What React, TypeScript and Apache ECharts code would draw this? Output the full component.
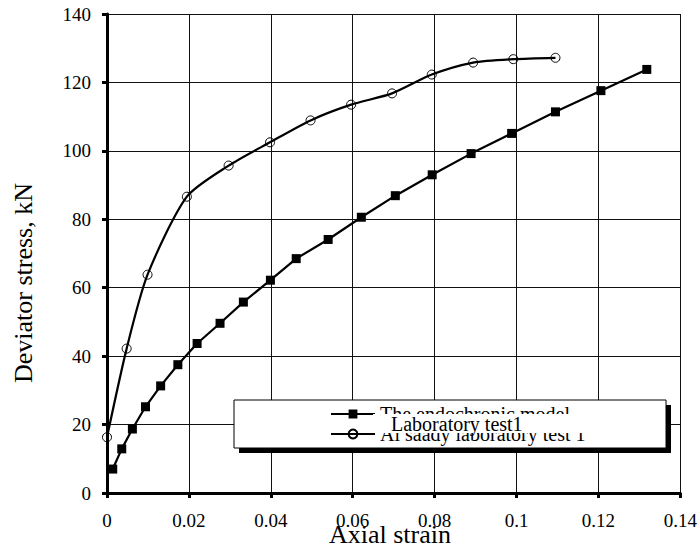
import React, { useEffect, useRef } from "react";
import * as echarts from "echarts";

const modelStrain = [0.0014, 0.0036, 0.0062, 0.0094, 0.0131, 0.0173, 0.022, 0.0276, 0.0333, 0.0399, 0.0462, 0.054, 0.0621, 0.0704, 0.0794, 0.0889, 0.0988, 0.1095, 0.1206, 0.1318];
const modelStress = [7.0, 12.9, 18.7, 25.2, 31.3, 37.5, 43.7, 49.6, 55.8, 62.2, 68.5, 74.1, 80.6, 86.9, 93.0, 99.2, 105.1, 111.4, 117.6, 123.8];

const labStrain = [0, 0.0048, 0.0099, 0.0195, 0.0297, 0.0398, 0.0497, 0.0596, 0.0696, 0.0793, 0.0894, 0.0992, 0.1095];
const labStress = [16.3, 42.2, 63.8, 86.6, 95.7, 102.5, 108.9, 113.5, 116.8, 122.3, 125.8, 126.8, 127.2];

const seriesNames = ["The endochronic model", "Al saady laboratory test 1"];
const overlayLabel = "Laboratory test1";
const xTitle = "Axial strain";
const yTitle = "Deviator stress, kN";

const FONT = "Liberation Serif";

export default function App() {
  const ref = useRef<HTMLDivElement>(null);
  useEffect(() => {
    if (!ref.current) return;
    const chart = echarts.init(ref.current, undefined, { renderer: "svg" });
    const axisCommon = {
      type: "value" as const,
      axisLine: { show: true, lineStyle: { color: "#000", width: 3 } },
      axisTick: { show: true, length: 5, lineStyle: { color: "#000", width: 3 } },
      splitLine: { show: true, lineStyle: { color: "#111", width: 1 } },
    };
    chart.setOption({
      animation: false,
      backgroundColor: "#fff",
      grid: { left: 107, right: 17, top: 14, bottom: 55, containLabel: false },
      xAxis: {
        ...axisCommon,
        min: 0,
        max: 0.14,
        interval: 0.02,
        axisLabel: {
          fontFamily: FONT,
          fontSize: 19,
          color: "#000",
          margin: 18,
          formatter: (v: number) => String(+v.toFixed(2)),
        },
      },
      yAxis: {
        ...axisCommon,
        min: 0,
        max: 140,
        interval: 20,
        axisLabel: { fontFamily: FONT, fontSize: 19, color: "#000", margin: 16 },
      },
      legend: {
        orient: "vertical",
        left: 325,
        top: 399,
        itemWidth: 44,
        itemHeight: 11,
        itemGap: 0,
        z: 40,
        textStyle: { fontFamily: FONT, fontSize: 20, color: "#000" },
        data: seriesNames,
      },
      series: [
        {
          name: seriesNames[0],
          type: "line",
          data: modelStrain.map((x, i) => [x, modelStress[i]]),
          symbol: "rect",
          symbolSize: 9,
          itemStyle: { color: "#000" },
          lineStyle: { color: "#000", width: 2.2 },
        },
        {
          name: seriesNames[1],
          type: "line",
          data: labStrain.map((x, i) => [x, labStress[i]]),
          symbol: "circle",
          symbolSize: 9,
          smooth: 0.25,
          itemStyle: { color: "rgba(0,0,0,0)", borderColor: "#000", borderWidth: 1 },
          lineStyle: { color: "#000", width: 2.2 },
        },
      ],
      graphic: [
        { type: "rect", z: 30, shape: { x: 239, y: 405, width: 432, height: 48 }, style: { fill: "#000" } },
        { type: "rect", z: 31, shape: { x: 234, y: 400, width: 432, height: 48 }, style: { fill: "#fff", stroke: "#000", lineWidth: 1 } },
        { type: "rect", z: 50, shape: { x: 373, y: 414, width: 210, height: 19 }, style: { fill: "#fff" } },
        {
          type: "text", z: 51, x: 391, y: 424,
          style: { text: overlayLabel, fontFamily: FONT, fontSize: 20, fill: "#000", verticalAlign: "middle", align: "left" },
        },
        {
          type: "text", z: 51, x: 390, y: 534,
          style: { text: xTitle, fontFamily: FONT, fontSize: 26, fill: "#000", verticalAlign: "middle", align: "center" },
        },
        {
          type: "text", z: 51, x: 23, y: 283, rotation: Math.PI / 2,
          style: { text: yTitle, fontFamily: FONT, fontSize: 26, fill: "#000", verticalAlign: "middle", align: "center" },
        },
      ],
    });
    return () => chart.dispose();
  }, []);
  return <div ref={ref} style={{ position: "fixed", left: 0, top: 0, width: 700, height: 548 }} />;
}
